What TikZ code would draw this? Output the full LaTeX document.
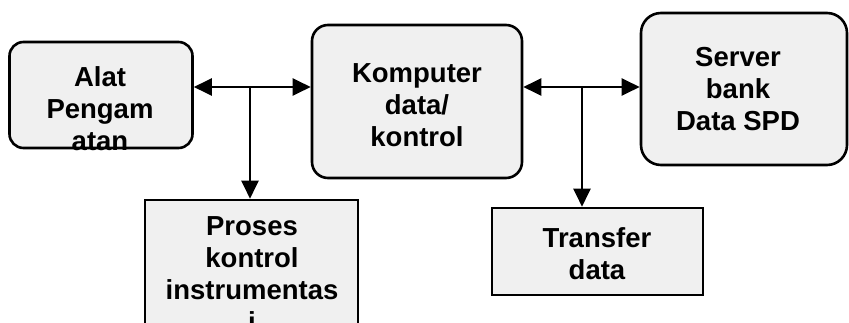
\documentclass[tikz,border=0pt]{standalone}
\usepackage{fontspec}
\setmainfont{Liberation Sans}
\usetikzlibrary{arrows.meta}
\begin{document}
\begin{tikzpicture}[x=1pt,y=-1pt,
  rbox/.style={draw=black, line width=2.6pt, fill=gray!12, rounded corners=16pt, inner sep=0pt, rectangle},
  sbox/.style={draw=black, line width=2.6pt, fill=gray!12, inner sep=0pt, rectangle},
  lbl/.style={align=center, inner sep=0pt, font=\bfseries\fontsize{27.5}{32}\selectfont},
  conn/.style={line width=2.2pt, -{Triangle[length=18pt,width=17pt]}},
  conn2/.style={line width=2.2pt, {Triangle[length=18pt,width=17pt]}-{Triangle[length=18pt,width=17pt]}}]
\useasboundingbox (0,0) rectangle (849,323);
\clip (0,0) rectangle (849,323);
\node[rbox, rounded corners=14pt, minimum width=183pt, minimum height=106pt] (alat) at (101,95) {};
\node[rbox, minimum width=210pt, minimum height=153pt] (komp) at (417,101.5) {};
\node[rbox, rounded corners=20pt, minimum width=206pt, minimum height=152pt] (server) at (744,89) {};
\node[sbox, minimum width=213pt, minimum height=135pt] (proses) at (251.5,267.5) {};
\node[sbox, minimum width=211pt, minimum height=87pt] (transfer) at (597.5,251.5) {};
\node[lbl] (talat) at (100,109) {Alat\\Pengam\\atan};
\node[lbl] (tkomp) at (417,105) {Komputer\\data/\\kontrol};
\node[lbl] (tserver) at (738,89) {Server\\bank\\Data SPD};
\node[lbl] (tproses) at (252,274) {Proses\\kontrol\\instrumentas\\i};
\node[lbl] (ttransfer) at (597,254) {Transfer\\data};
\coordinate (j1) at (250,87);
\coordinate (j2) at (582,87);
\draw[conn2] (j1 -| alat.east) -- (j1 -| komp.west);
\draw[conn2] (j2 -| komp.east) -- (j2 -| server.west);
\draw[conn] (j1) -- (j1 |- proses.north);
\draw[conn] (j2) -- (j2 |- transfer.north);
\end{tikzpicture}
\end{document}
